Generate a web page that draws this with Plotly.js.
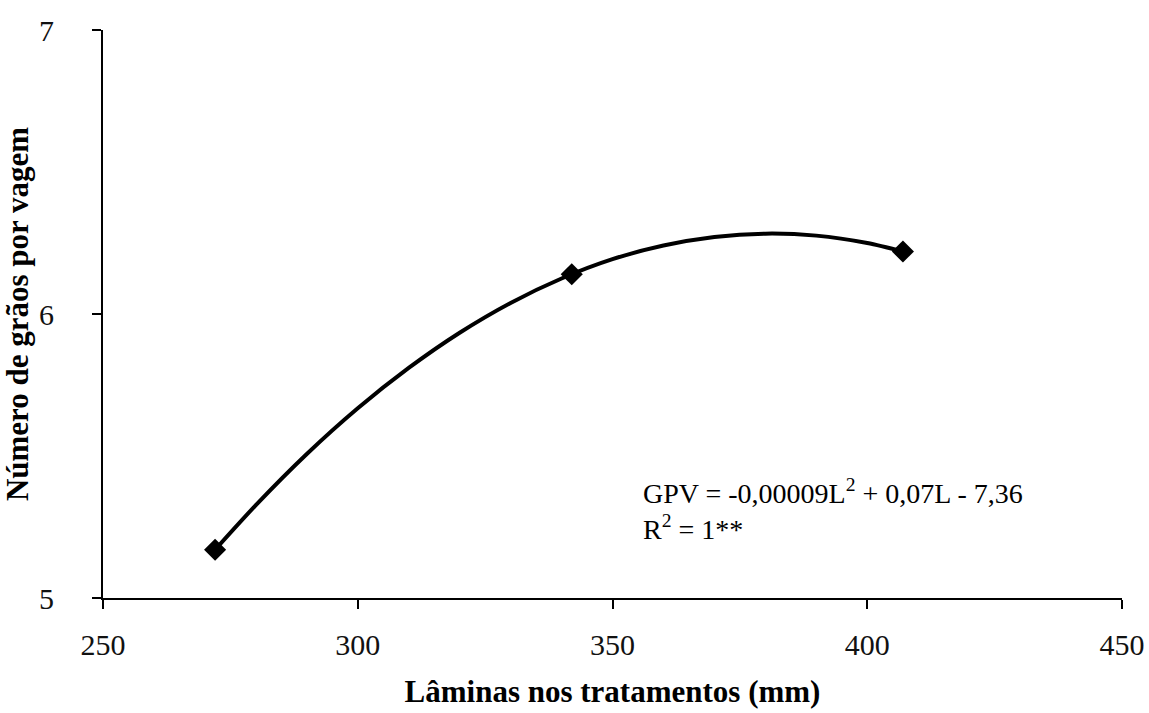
<!DOCTYPE html>
<html>
<head>
<meta charset="utf-8">
<script src="https://cdn.plot.ly/plotly-3.0.1.min.js"></script>
<style>html,body{margin:0;padding:0;background:#fff;}#chart{width:1149px;height:713px;}</style>
</head>
<body>
<div id="chart"></div>
<script>
// Observed treatment points
const laminas = [272, 342, 407];
const graos = [5.17, 6.14, 6.22];
// Trend curve
const curveX = [272, 280, 290, 300, 310, 320, 330, 340, 350, 360, 370, 380, 390, 400, 407];
const curveY = [5.170, 5.327, 5.507, 5.668, 5.810, 5.934, 6.039, 6.125, 6.193, 6.241, 6.271, 6.283, 6.276, 6.250, 6.220];
const xTicks = [250, 300, 350, 400, 450];
const yTicks = [5, 6, 7];
const eqText = "GPV = -0,00009L<sup>2</sup> + 0,07L - 7,36";
const r2Text = "R<sup>2</sup> = 1**";

const font = "Liberation Serif, Times New Roman, serif";

const traces = [
  {x: curveX, y: curveY, mode: 'lines', line: {color: '#000', width: 4, shape: 'spline', smoothing: 0.8}, hoverinfo: 'skip'},
  {x: laminas, y: graos, mode: 'markers', marker: {symbol: 'diamond', size: 17, color: '#000'}}
];

const layout = {
  width: 1149, height: 713,
  margin: {l: 103, r: 27, t: 30, b: 115},
  paper_bgcolor: '#fff', plot_bgcolor: '#fff',
  showlegend: false,
  font: {family: font, color: '#000'},
  xaxis: {
    range: [250, 450], tickvals: xTicks, ticktext: xTicks.map(String),
    showgrid: false, zeroline: false, showline: true, linecolor: '#000', linewidth: 2,
    ticks: 'outside', ticklen: 9, tickwidth: 2, tickcolor: '#000',
    ticklabelstandoff: 10,
    tickfont: {family: font, size: 30, color: '#111'},
    title: {text: '<b>Lâminas nos tratamentos (mm)</b>', font: {family: font, size: 31, color: '#000'}, standoff: 20}
  },
  yaxis: {
    range: [5, 7], tickvals: yTicks, ticktext: yTicks.map(String),
    showgrid: false, zeroline: false, showline: true, linecolor: '#000', linewidth: 2,
    ticks: 'outside', ticklen: 9, tickwidth: 2, tickcolor: '#000',
    ticklabelstandoff: 32,
    tickfont: {family: font, size: 30, color: '#111'},
    title: {text: '<b>Número de grãos por vagem</b>', font: {family: font, size: 31, color: '#000'}, standoff: 10}
  },
  annotations: [
    {x: 355.5, y: 5.375, xref: 'x', yref: 'y', text: eqText, showarrow: false, xanchor: 'left', yanchor: 'middle', font: {family: font, size: 28, color: '#000'}},
    {x: 355.5, y: 5.25, xref: 'x', yref: 'y', text: r2Text, showarrow: false, xanchor: 'left', yanchor: 'middle', font: {family: font, size: 28, color: '#000'}}
  ]
};

Plotly.newPlot('chart', traces, layout, {displayModeBar: false, staticPlot: true});
</script>
</body>
</html>
